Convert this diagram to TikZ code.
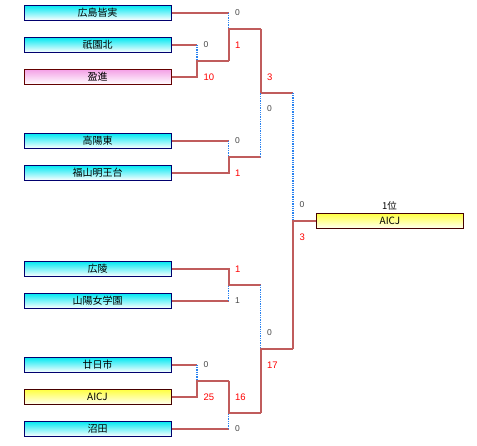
\documentclass[tikz,border=0pt]{standalone}
\usepackage{fontspec}
\setmainfont{Liberation Sans}
\newfontfamily\jpfont{Noto Sans CJK JP}
\definecolor{linered}{RGB}{192,92,92}
\definecolor{dotblue}{RGB}{40,130,240}
\definecolor{boxcyan}{RGB}{0,232,242}
\definecolor{boxpink}{RGB}{244,160,230}
\definecolor{boxyellow}{RGB}{255,255,64}
\definecolor{navyb}{RGB}{0,0,110}
\definecolor{darkred}{RGB}{100,0,0}
\definecolor{scoregray}{RGB}{70,70,70}
\tikzset{
  team/.style={draw=navyb, line width=1pt, minimum width=147pt, minimum height=15pt, inner sep=0pt,
    top color=boxcyan, bottom color=white, font=\jpfont\fontsize{10}{10}\selectfont},
  pinkteam/.style={team, draw=darkred, top color=boxpink, bottom color=white},
  yellowteam/.style={team, draw=darkred!70!black, top color=boxyellow, bottom color=white!95!yellow},
  win/.style={draw=linered, line width=2pt},
  lose/.style={draw=dotblue, line width=1.5pt, dash pattern=on 1.3pt off 1pt},
  wsc/.style={text=red, anchor=west, inner sep=0pt, font=\fontsize{9.5}{10}\selectfont},
  lsc/.style={text=scoregray, anchor=west, inner sep=0pt, font=\fontsize{8.5}{9}\selectfont}
}
\begin{document}
\begin{tikzpicture}[x=1pt,y=-1pt]
\useasboundingbox (0,0) rectangle (477,445);
% teams
\node[team] (t1) at (97.5,12.8) {広島皆実};
\node[team] (t2) at (97.5,44.8) {祇園北};
\node[pinkteam] (t3) at (97.5,76.8) {盈進};
\node[team] (t4) at (97.5,140.8) {高陽東};
\node[team] (t5) at (97.5,172.8) {福山明王台};
\node[team] (t6) at (97.5,268.8) {広陵};
\node[team] (t7) at (97.5,300.8) {山陽女学園};
\node[team] (t8) at (97.5,364.8) {廿日市};
\node[yellowteam] (t9) at (97.5,396.8) {AICJ};
\node[team] (t10) at (97.5,428.8) {沼田};
\node[yellowteam] (champ) at (390,220.8) {AICJ};
\node[font=\jpfont\fontsize{9.5}{10}\selectfont, inner sep=0pt] (rank) at (389.5,205.5) {1位};
% junction coordinates
\coordinate (a2) at (197,44.8);   \coordinate (a3) at (197,76.8);   \coordinate (j1) at (197,60.8);
\coordinate (b1) at (228.5,12.8); \coordinate (b3) at (228.5,60.8); \coordinate (j2) at (228.5,28.8);
\coordinate (b4) at (228.5,140.8);\coordinate (b5) at (228.5,172.8);\coordinate (j3) at (228.5,156.8);
\coordinate (c2) at (260.5,28.8); \coordinate (c3) at (260.5,156.8);\coordinate (j4) at (260.5,92.8);
\coordinate (b6) at (228.5,268.8);\coordinate (b7) at (228.5,300.8);\coordinate (j5) at (228.5,284.8);
\coordinate (a8) at (197,364.8);  \coordinate (a9) at (197,396.8);  \coordinate (j6) at (197,380.8);
\coordinate (b9) at (228.5,380.8);\coordinate (b10) at (228.5,428.8);\coordinate (j7) at (228.5,412.8);
\coordinate (c5) at (260.5,284.8);\coordinate (c7) at (260.5,412.8);\coordinate (j8) at (260.5,348.8);
\coordinate (d4) at (293,92.8);   \coordinate (d8) at (293,348.8);  \coordinate (jf) at (293,220.8);
% match 1
\draw[win] (t2.east) -- (a2);
\draw[lose] (a2) -- (j1);
\draw[win] (t3.east) -- (a3) -- (j1) -- (b3);
% match 2
\draw[win] (t1.east) -- (b1);
\draw[lose] (b1) -- (j2);
\draw[win] (b3) -- (j2) -- (c2);
% match 3
\draw[win] (t4.east) -- (b4);
\draw[lose] (b4) -- (j3);
\draw[win] (t5.east) -- (b5) -- (j3) -- (c3);
% match 4
\draw[win] (c2) -- (j4) -- (d4);
\draw[lose] (c3) -- (j4);
% match 5
\draw[win] (t6.east) -- (b6) -- (j5) -- (c5);
\draw[win] (t7.east) -- (b7);
\draw[lose] (b7) -- (j5);
% match 6
\draw[win] (t8.east) -- (a8);
\draw[lose] (a8) -- (j6);
\draw[win] (t9.east) -- (a9) -- (j6) -- (b9);
% match 7
\draw[win] (b9) -- (j7) -- (c7);
\draw[win] (t10.east) -- (b10);
\draw[lose] (b10) -- (j7);
% match 8
\draw[lose] (c5) -- (j8);
\draw[win] (c7) -- (j8) -- (d8);
% final
\draw[lose] (d4) -- (jf);
\draw[win] (d8) -- (jf) -- (champ.west);
% scores
\node[lsc] (s1a) at (203.5,44.8) {0};
\node[wsc] (s1b) at (203.5,76.8) {10};
\node[lsc] (s2a) at (235,12.8) {0};
\node[wsc] (s2b) at (235,44.8) {1};
\node[lsc] (s3a) at (235,140.8) {0};
\node[wsc] (s3b) at (235,172.8) {1};
\node[wsc] (s4a) at (267,76.8) {3};
\node[lsc] (s4b) at (267,108.8) {0};
\node[wsc] (s5a) at (235,268.8) {1};
\node[lsc] (s5b) at (235,300.8) {1};
\node[lsc] (s6a) at (203.5,364.8) {0};
\node[wsc] (s6b) at (203.5,396.8) {25};
\node[wsc] (s7a) at (235,396.8) {16};
\node[lsc] (s7b) at (235,428.8) {0};
\node[lsc] (s8a) at (267,332.8) {0};
\node[wsc] (s8b) at (267,364.8) {17};
\node[lsc] (sfa) at (299.5,204.8) {0};
\node[wsc] (sfb) at (299.5,236.8) {3};
\end{tikzpicture}
\end{document}
